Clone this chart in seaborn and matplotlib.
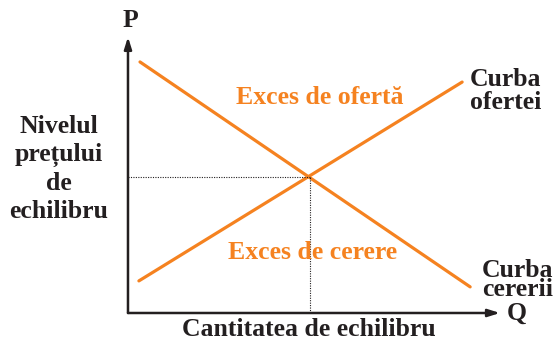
import matplotlib
matplotlib.use('Agg')
import matplotlib.pyplot as plt
import seaborn as sns
import pandas as pd

# Curves (quantity Q, price P)
demand_q = [0.33, 9.40]
demand_p = [9.23, 0.96]
supply_q = [0.30, 9.18]
supply_p = [1.18, 8.49]
q_eq = 5.0
p_eq = 5.0

# Labels
y_label = 'Nivelul\nprețului\nde\nechilibru'
x_label = 'Cantitatea de echilibru'
excess_supply = 'Exces de ofertă'
excess_demand = 'Exces de cerere'
supply_name = 'Curba\nofertei'
demand_name = 'Curba\ncererii'

orange = '#F58220'
ink = '#231f20'

sns.set_style('white')
plt.rcParams['font.family'] = ['Liberation Serif', 'DejaVu Serif']
plt.rcParams['font.weight'] = 'bold'

fig = plt.figure(figsize=(5.57, 3.40), dpi=100)
ax = fig.add_axes([0, 0, 1, 1])

df_d = pd.DataFrame({'Q': demand_q, 'P': demand_p})
df_s = pd.DataFrame({'Q': supply_q, 'P': supply_p})
sns.lineplot(data=df_d, x='Q', y='P', color=orange, lw=2.3, ax=ax)
sns.lineplot(data=df_s, x='Q', y='P', color=orange, lw=2.3, ax=ax)

# equilibrium guides
ax.plot([0, q_eq], [p_eq, p_eq], color=ink, lw=0.8, ls=(0, (1, 1.2)))
ax.plot([q_eq, q_eq], [0, p_eq], color=ink, lw=0.8, ls=(0, (1, 1.2)))

# axes with arrows
arrow = dict(arrowstyle='-|>,head_length=0.7,head_width=0.22', color=ink,
             lw=1.8, shrinkA=0, shrinkB=0)
ax.annotate('', xy=(10.22, 0), xytext=(0, 0), arrowprops=arrow)
ax.annotate('', xy=(0, 10.15), xytext=(0, 0), arrowprops=arrow)

fs = 18.5
ax.text(0.055, 10.74, 'P', ha='center', va='center', fontsize=fs, color=ink)
ax.text(10.69, 0.0, 'Q', ha='center', va='center', fontsize=fs, color=ink)
ax.text(4.97, -0.59, x_label, ha='center', va='center', fontsize=fs, color=ink)
ax.text(-1.90, 5.30, y_label, ha='center', va='center', fontsize=fs,
        color=ink, linespacing=1.28)
ax.text(5.27, 7.94, excess_supply, ha='center', va='center', fontsize=fs,
        color=orange)
ax.text(5.08, 2.24, excess_demand, ha='center', va='center', fontsize=fs,
        color=orange)
ax.text(10.38, 8.16, supply_name, ha='center', va='center', fontsize=fs,
        color=ink, linespacing=0.95)
ax.text(9.73, 1.21, demand_name, ha='left', va='center', fontsize=fs,
        color=ink, linespacing=0.8)

ax.set_xlim(-3.516, 11.786)
ax.set_ylim(-0.993, 11.507)
ax.set_xlabel('')
ax.set_ylabel('')
ax.axis('off')

fig.savefig('out.png', dpi=100)
plt.close(fig)
